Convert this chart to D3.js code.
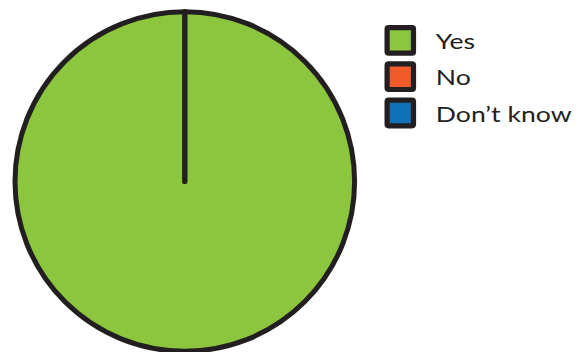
<!DOCTYPE html>
<html>
<head>
<meta charset="utf-8">
<script src="https://cdn.jsdelivr.net/npm/d3@7"></script>
<style>
  html, body { margin: 0; padding: 0; background: #ffffff; }
  svg { display: block; }
</style>
</head>
<body>
<svg id="chart" width="582" height="352"></svg>
<script>
// Survey answers and their shares (percent)
const categories = ["Yes", "No", "Don\u2019t know"];
const values = [100, 0, 0];
const colors = ["#8cc63f", "#f15a29", "#0f71b8"];

const ink = "#231f20";
const svg = d3.select("#chart");

const color = d3.scaleOrdinal().domain(categories).range(colors);

const data = categories.map((c, i) => ({ category: c, value: values[i] }));

// Pie
const cx = 184.8, cy = 181.5, radius = 169.8;
const pie = d3.pie().value(d => d.value).sort(null);
const arc = d3.arc().innerRadius(0).outerRadius(radius);

svg.append("g")
  .attr("transform", `translate(${cx},${cy})`)
  .selectAll("path")
  .data(pie(data))
  .join("path")
  .attr("d", arc)
  .attr("fill", d => color(d.data.category))
  .attr("stroke", ink)
  .attr("stroke-width", 5)
  .attr("stroke-linejoin", "round")
  .attr("stroke-linecap", "round");

// Legend
const legendY = d3.scalePoint().domain(categories).range([40.4, 113.0]);
const legend = svg.append("g");
const item = legend.selectAll("g")
  .data(categories)
  .join("g")
  .attr("transform", d => `translate(400.3,${legendY(d)})`);

item.append("rect")
  .attr("x", -13.2).attr("y", -12.8)
  .attr("width", 26.4).attr("height", 25.6)
  .attr("rx", 1.5)
  .attr("fill", d => color(d))
  .attr("stroke", ink)
  .attr("stroke-width", 5.2);

// Labels: a wide geometric look, approximated by stretching Lato horizontally
item.append("text")
  .attr("transform", "translate(35.5,8.6) scale(1.21,1)")
  .attr("font-family", "Lato, 'Open Sans', sans-serif")
  .attr("font-size", 22)
  .attr("fill", ink)
  .text(d => d);
</script>
</body>
</html>
